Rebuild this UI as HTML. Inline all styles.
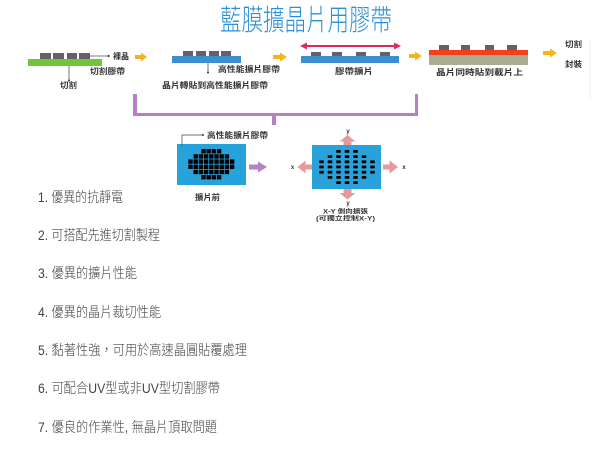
<!DOCTYPE html>
<html>
<head>
<meta charset="utf-8">
<style>
html,body{margin:0;padding:0;background:#fff;}
body{width:600px;height:453px;overflow:hidden;}
svg{display:block;}
.t{font-family:"Liberation Sans","Noto Sans CJK TC",sans-serif;}
.lbl{font-family:"Liberation Sans","Noto Sans CJK TC",sans-serif;font-size:8px;font-weight:bold;fill:#333;}
.li{font-family:"Liberation Sans","Noto Sans CJK TC",sans-serif;font-size:14px;font-weight:300;fill:#444;}
</style>
</head>
<body>
<svg width="600" height="453" viewBox="0 0 600 453" xmlns="http://www.w3.org/2000/svg">
  <!-- Title -->
  <text class="t" x="220" y="30" font-size="29" font-weight="300" fill="#2a8fd8" textLength="172" lengthAdjust="spacingAndGlyphs">藍膜擴晶片用膠帶</text>

  <!-- faint line right -->
  <line x1="590" y1="38" x2="590" y2="100" stroke="#f0f0f0" stroke-width="1"/>

  <!-- Panel 1 -->
  <rect x="28" y="59" width="74" height="7" fill="#72c43a"/>
  <g fill="#675f6b">
    <rect x="40" y="53" width="11" height="6"/>
    <rect x="53" y="53" width="11" height="6"/>
    <rect x="67" y="53" width="10" height="6"/>
    <rect x="79" y="53" width="11" height="6"/>
  </g>
  <line x1="90" y1="56" x2="107" y2="56" stroke="#555" stroke-width="0.8"/>
  <circle cx="108.5" cy="56" r="1.1" fill="#333"/>
  <text class="lbl" x="113" y="59" textLength="16" lengthAdjust="spacingAndGlyphs">裸晶</text>
  <line x1="69" y1="66" x2="69" y2="80" stroke="#555" stroke-width="0.8"/>
  <circle cx="69" cy="80.5" r="1" fill="#333"/>
  <text class="lbl" x="90" y="74" textLength="35" lengthAdjust="spacingAndGlyphs">切割膠帶</text>
  <text class="lbl" x="60" y="88" textLength="17" lengthAdjust="spacingAndGlyphs">切割</text>

  <!-- Yellow arrow 1 -->
  <g fill="#f5b41c">
    <rect x="135" y="55" width="6" height="4"/>
    <polygon points="141,52.5 147,57 141,61.5"/>
  </g>

  <!-- Panel 2 -->
  <rect x="172" y="56" width="69" height="7" fill="#3b8ed2"/>
  <g fill="#675f6b">
    <rect x="183" y="51" width="10" height="5"/>
    <rect x="196" y="51" width="10" height="5"/>
    <rect x="209" y="51" width="10" height="5"/>
    <rect x="221" y="51" width="10" height="5"/>
  </g>
  <line x1="208" y1="63" x2="208" y2="72" stroke="#555" stroke-width="0.8"/>
  <circle cx="208" cy="72.5" r="1" fill="#333"/>
  <text class="lbl" x="218" y="72" textLength="62" lengthAdjust="spacingAndGlyphs">高性能擴片膠帶</text>
  <text class="lbl" x="162" y="88" textLength="106" lengthAdjust="spacingAndGlyphs">晶片轉貼到高性能擴片膠帶</text>

  <!-- Yellow arrow 2 -->
  <g fill="#f5b41c">
    <rect x="273" y="55" width="7" height="4"/>
    <polygon points="280,52.5 287,57 280,61.5"/>
  </g>

  <!-- Panel 3 -->
  <line x1="305" y1="46" x2="396" y2="46" stroke="#e3265b" stroke-width="2"/>
  <polygon points="300,46 307,42.5 307,49.5" fill="#e3265b"/>
  <polygon points="401,46 394,42.5 394,49.5" fill="#e3265b"/>
  <rect x="301" y="56" width="98" height="7" fill="#3b8ed2"/>
  <g fill="#675f6b">
    <rect x="311" y="52" width="10" height="4"/>
    <rect x="332" y="52" width="10" height="4"/>
    <rect x="356" y="52" width="10" height="4"/>
    <rect x="380" y="52" width="10" height="4"/>
  </g>
  <text class="lbl" x="335" y="74" textLength="38" lengthAdjust="spacingAndGlyphs">膠帶擴片</text>

  <!-- Yellow arrow 3 -->
  <g fill="#f5b41c">
    <rect x="409" y="54" width="6" height="4"/>
    <polygon points="415,51.5 422,56 415,60.5"/>
  </g>

  <!-- Panel 4 -->
  <rect x="429" y="55" width="99" height="10" fill="#a9ad91"/>
  <rect x="429" y="50" width="99" height="5" fill="#f0401c"/>
  <g fill="#675f6b">
    <rect x="439" y="45" width="10" height="5"/>
    <rect x="461" y="45" width="9" height="5"/>
    <rect x="485" y="45" width="9" height="5"/>
    <rect x="507" y="45" width="10" height="5"/>
  </g>
  <text class="lbl" x="436" y="75" textLength="87" lengthAdjust="spacingAndGlyphs">晶片同時貼到載片上</text>

  <!-- Yellow arrow 4 -->
  <g fill="#f5b41c">
    <rect x="543" y="51" width="7" height="4"/>
    <polygon points="550,48.5 557,53 550,57.5"/>
  </g>
  <text class="lbl" x="565" y="47" textLength="17" lengthAdjust="spacingAndGlyphs">切割</text>
  <text class="lbl" x="565" y="67" textLength="17" lengthAdjust="spacingAndGlyphs">封裝</text>

  <!-- Purple bracket -->
  <g fill="#b77fc4">
    <rect x="133" y="94" width="4" height="22"/>
    <rect x="133" y="113" width="285" height="3"/>
    <rect x="415" y="94" width="3" height="22"/>
    <rect x="272" y="116" width="4" height="9"/>
  </g>

  <!-- Left diagram -->
  <text class="lbl" x="207" y="138" textLength="61" lengthAdjust="spacingAndGlyphs">高性能擴片膠帶</text>
  <rect x="177" y="144" width="69" height="41" fill="#27a3dc"/>
  <polyline points="202,135 182,135 182,146" fill="none" stroke="#444" stroke-width="0.7"/>
  <circle cx="203" cy="135" r="1" fill="#333"/>
  <g fill="#000">
    <rect x="201.3" y="149" width="4.4" height="4.4"/><rect x="206.5" y="149" width="4.4" height="4.4"/><rect x="211.7" y="149" width="4.4" height="4.4"/><rect x="216.9" y="149" width="4.4" height="4.4"/>
    <rect x="193.5" y="154.2" width="4.4" height="4.4"/><rect x="198.7" y="154.2" width="4.4" height="4.4"/><rect x="203.9" y="154.2" width="4.4" height="4.4"/><rect x="209.1" y="154.2" width="4.4" height="4.4"/><rect x="214.3" y="154.2" width="4.4" height="4.4"/><rect x="219.5" y="154.2" width="4.4" height="4.4"/><rect x="224.7" y="154.2" width="4.4" height="4.4"/>
    <rect x="188.3" y="159.4" width="4.4" height="4.4"/><rect x="193.5" y="159.4" width="4.4" height="4.4"/><rect x="198.7" y="159.4" width="4.4" height="4.4"/><rect x="203.9" y="159.4" width="4.4" height="4.4"/><rect x="209.1" y="159.4" width="4.4" height="4.4"/><rect x="214.3" y="159.4" width="4.4" height="4.4"/><rect x="219.5" y="159.4" width="4.4" height="4.4"/><rect x="224.7" y="159.4" width="4.4" height="4.4"/><rect x="229.9" y="159.4" width="4.4" height="4.4"/>
    <rect x="188.3" y="164.6" width="4.4" height="4.4"/><rect x="193.5" y="164.6" width="4.4" height="4.4"/><rect x="198.7" y="164.6" width="4.4" height="4.4"/><rect x="203.9" y="164.6" width="4.4" height="4.4"/><rect x="209.1" y="164.6" width="4.4" height="4.4"/><rect x="214.3" y="164.6" width="4.4" height="4.4"/><rect x="219.5" y="164.6" width="4.4" height="4.4"/><rect x="224.7" y="164.6" width="4.4" height="4.4"/><rect x="229.9" y="164.6" width="4.4" height="4.4"/>
    <rect x="193.5" y="169.8" width="4.4" height="4.4"/><rect x="198.7" y="169.8" width="4.4" height="4.4"/><rect x="203.9" y="169.8" width="4.4" height="4.4"/><rect x="209.1" y="169.8" width="4.4" height="4.4"/><rect x="214.3" y="169.8" width="4.4" height="4.4"/><rect x="219.5" y="169.8" width="4.4" height="4.4"/><rect x="224.7" y="169.8" width="4.4" height="4.4"/>
    <rect x="201.3" y="175" width="4.4" height="4.4"/><rect x="206.5" y="175" width="4.4" height="4.4"/><rect x="211.7" y="175" width="4.4" height="4.4"/><rect x="216.9" y="175" width="4.4" height="4.4"/>
  </g>
  <text class="lbl" x="195" y="200" textLength="25" lengthAdjust="spacingAndGlyphs">擴片前</text>

  <!-- Purple arrow -->
  <g fill="#b77fc4">
    <rect x="249" y="164.5" width="9" height="5"/>
    <polygon points="258,161.5 267,167 258,172.5"/>
  </g>

  <!-- Right diagram -->
  <rect x="312" y="145" width="69" height="44" fill="#29a2da"/>
  <g fill="#000">
    <rect x="336.2" y="150" width="4.6" height="2.8" rx="0.6"/><rect x="344.7" y="150" width="4.6" height="2.8" rx="0.6"/><rect x="353.2" y="150" width="4.6" height="2.8" rx="0.6"/>
    <rect x="327.7" y="155.2" width="4.6" height="2.8" rx="0.6"/><rect x="336.2" y="155.2" width="4.6" height="2.8" rx="0.6"/><rect x="344.7" y="155.2" width="4.6" height="2.8" rx="0.6"/><rect x="353.2" y="155.2" width="4.6" height="2.8" rx="0.6"/><rect x="361.7" y="155.2" width="4.6" height="2.8" rx="0.6"/>
    <rect x="319.2" y="160.4" width="4.6" height="2.8" rx="0.6"/><rect x="327.7" y="160.4" width="4.6" height="2.8" rx="0.6"/><rect x="336.2" y="160.4" width="4.6" height="2.8" rx="0.6"/><rect x="344.7" y="160.4" width="4.6" height="2.8" rx="0.6"/><rect x="353.2" y="160.4" width="4.6" height="2.8" rx="0.6"/><rect x="361.7" y="160.4" width="4.6" height="2.8" rx="0.6"/><rect x="370.2" y="160.4" width="4.6" height="2.8" rx="0.6"/>
    <rect x="319.2" y="165.6" width="4.6" height="2.8" rx="0.6"/><rect x="327.7" y="165.6" width="4.6" height="2.8" rx="0.6"/><rect x="336.2" y="165.6" width="4.6" height="2.8" rx="0.6"/><rect x="344.7" y="165.6" width="4.6" height="2.8" rx="0.6"/><rect x="353.2" y="165.6" width="4.6" height="2.8" rx="0.6"/><rect x="361.7" y="165.6" width="4.6" height="2.8" rx="0.6"/><rect x="370.2" y="165.6" width="4.6" height="2.8" rx="0.6"/>
    <rect x="319.2" y="170.8" width="4.6" height="2.8" rx="0.6"/><rect x="327.7" y="170.8" width="4.6" height="2.8" rx="0.6"/><rect x="336.2" y="170.8" width="4.6" height="2.8" rx="0.6"/><rect x="344.7" y="170.8" width="4.6" height="2.8" rx="0.6"/><rect x="353.2" y="170.8" width="4.6" height="2.8" rx="0.6"/><rect x="361.7" y="170.8" width="4.6" height="2.8" rx="0.6"/><rect x="370.2" y="170.8" width="4.6" height="2.8" rx="0.6"/>
    <rect x="327.7" y="176" width="4.6" height="2.8" rx="0.6"/><rect x="336.2" y="176" width="4.6" height="2.8" rx="0.6"/><rect x="344.7" y="176" width="4.6" height="2.8" rx="0.6"/><rect x="353.2" y="176" width="4.6" height="2.8" rx="0.6"/><rect x="361.7" y="176" width="4.6" height="2.8" rx="0.6"/>
    <rect x="336.2" y="181.2" width="4.6" height="2.8" rx="0.6"/><rect x="344.7" y="181.2" width="4.6" height="2.8" rx="0.6"/><rect x="353.2" y="181.2" width="4.6" height="2.8" rx="0.6"/>
  </g>

  <!-- Pink arrows -->
  <g fill="#e8999c">
    <rect x="343.5" y="141" width="8" height="4"/>
    <polygon points="339.5,141.5 347.5,135 355.5,141.5"/>
    <rect x="343.5" y="189" width="8" height="4.5"/>
    <polygon points="339.5,193 355.5,193 347.5,199.5"/>
    <rect x="305" y="164.5" width="7" height="5"/>
    <polygon points="305.5,160.5 305.5,173.5 297.5,167"/>
    <rect x="383" y="164.5" width="7" height="5"/>
    <polygon points="389.5,160.5 389.5,173.5 398,167"/>
  </g>
  <g class="t" font-size="6" font-weight="bold" fill="#333" text-anchor="middle">
    <text x="348" y="133">y</text>
    <text x="348" y="205">y</text>
    <text x="292.5" y="169">x</text>
    <text x="404" y="169">x</text>
  </g>
  <text class="lbl" style="font-size:6px" x="323" y="213.5" textLength="45" lengthAdjust="spacingAndGlyphs">X-Y 側向擴張</text>
  <text class="lbl" style="font-size:6px" x="316" y="220.5" textLength="59" lengthAdjust="spacingAndGlyphs">(可獨立控制X-Y)</text>

  <!-- Numbered list -->
  <text class="li" x="38" y="202" textLength="85" lengthAdjust="spacingAndGlyphs">1. 優異的抗靜電</text>
  <text class="li" x="38" y="240" textLength="122" lengthAdjust="spacingAndGlyphs">2. 可搭配先進切割製程</text>
  <text class="li" x="38" y="278" textLength="99" lengthAdjust="spacingAndGlyphs">3. 優異的擴片性能</text>
  <text class="li" x="38" y="317" textLength="123" lengthAdjust="spacingAndGlyphs">4. 優異的晶片裁切性能</text>
  <text class="li" x="38" y="355" textLength="209" lengthAdjust="spacingAndGlyphs">5. 黏著性強，可用於高速晶圓貼覆處理</text>
  <text class="li" x="38" y="393" textLength="182" lengthAdjust="spacingAndGlyphs">6. 可配合UV型或非UV型切割膠帶</text>
  <text class="li" x="38" y="432" textLength="179" lengthAdjust="spacingAndGlyphs">7. 優良的作業性, 無晶片頂取問題</text>
</svg>
</body>
</html>
